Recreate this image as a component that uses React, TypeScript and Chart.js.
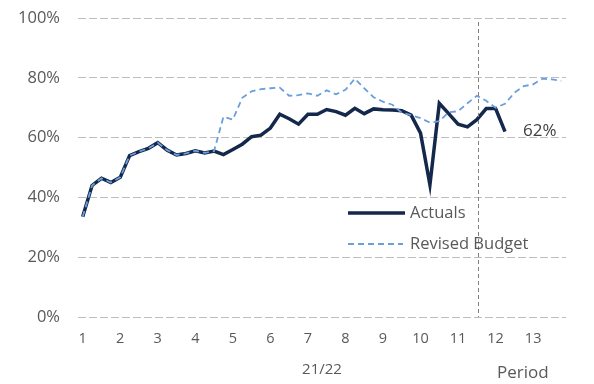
import React, { useEffect, useRef } from "react";
import { Chart, registerables } from "chart.js";

Chart.register(...registerables);

const periods = ["1", "2", "3", "4", "5", "6", "7", "8", "9", "10", "11", "12", "13"];
const weeksPerPeriod = 4;

const actuals = [
  33.5, 44, 46.4, 45, 46.7, 54, 55.3, 56.4, 58.3, 55.8, 54.2, 54.7, 55.6, 54.9,
  55.5, 54.3, 56, 57.8, 60.3, 60.8, 63.2, 67.8, 66.3, 64.5, 67.8, 67.8, 69.4,
  68.7, 67.5, 69.8, 68, 69.6, 69.3, 69.2, 69, 67.5, 61.5, 44.2, 71.5, 68, 64.5,
  63.6, 66, 69.7, 69.7, 62,
];

const revisedBudget = [
  33.5, 44, 46.4, 45, 46.7, 54, 55.3, 56.4, 58.3, 55.8, 54.2, 54.7, 55.6, 54.9,
  55.5, 67, 66, 73.3, 75.5, 76.2, 76.5, 76.7, 74, 74.2, 74.8, 74, 75.8, 74.5,
  76, 79.7, 76.5, 73.5, 72, 71, 68.3, 67.5, 66.5, 65, 65.5, 68.5, 68.8, 71.5,
  74, 72.3, 70, 71.3, 75, 77.2, 77.8, 79.7, 79.5, 79,
];

const yTicks = [0, 20, 40, 60, 80, 100];
const yearLabel = "21/22";
const axisName = "Period";
const currentWeek = 42.17;
const lastLabel = "62%";

const weekLabels: string[] = [];
periods.forEach((p) => {
  for (let w = 0; w < weeksPerPeriod; w++) weekLabels.push(w === 0 ? p : "");
});

const NAVY = "#14284b";
const BLUE = "#6a9fdc";
const GREY = "#595959";
const FONT = "'Open Sans', sans-serif";

const overlay = {
  id: "overlay",
  afterDatasetsDraw(chart: any) {
    const { ctx, chartArea, scales } = chart;
    const x = scales.x;
    ctx.save();
    // current-week marker
    const vx = Math.round(x.getPixelForValue(currentWeek)) + 0.5;
    ctx.strokeStyle = "#7f7f7f";
    ctx.lineWidth = 1;
    ctx.setLineDash([4, 3]);
    ctx.beginPath();
    ctx.moveTo(vx, chartArea.top + 4);
    ctx.lineTo(vx, chartArea.bottom);
    ctx.stroke();

    // last actual label
    const meta = chart.getDatasetMeta(0);
    const last = meta.data[meta.data.length - 1];
    ctx.setLineDash([]);
    ctx.fillStyle = "#404040";
    ctx.font = `17px ${FONT}`;
    ctx.textAlign = "left";
    ctx.textBaseline = "middle";
    ctx.fillText(lastLabel, last.x + 18, last.y);

    // legend
    const lx = 348;
    const ly1 = 213;
    const ly2 = 244;
    ctx.strokeStyle = NAVY;
    ctx.lineWidth = 3.5;
    ctx.beginPath();
    ctx.moveTo(lx, ly1);
    ctx.lineTo(lx + 57, ly1);
    ctx.stroke();
    ctx.strokeStyle = BLUE;
    ctx.lineWidth = 1.8;
    ctx.setLineDash([6, 4]);
    ctx.beginPath();
    ctx.moveTo(lx, ly2);
    ctx.lineTo(lx + 55, ly2);
    ctx.stroke();
    ctx.setLineDash([]);
    ctx.fillStyle = GREY;
    ctx.font = `16.5px ${FONT}`;
    ctx.fillText(chart.data.datasets[0].label, lx + 62, ly1);
    ctx.fillText(chart.data.datasets[1].label, lx + 62, ly2);

    // axis name
    ctx.font = `17px ${FONT}`;
    ctx.fillText(axisName, 497, 373);
    ctx.restore();
  },
};

export default function App() {
  const ref = useRef<HTMLCanvasElement | null>(null);
  useEffect(() => {
    if (!ref.current) return;
    const chart = new Chart(ref.current, {
      type: "line",
      data: {
        labels: weekLabels,
        datasets: [
          {
            label: "Actuals",
            data: actuals,
            borderColor: NAVY,
            borderWidth: 3.5,
            pointRadius: 0,
            tension: 0,
            order: 1,
          },
          {
            label: "Revised Budget",
            data: revisedBudget,
            borderColor: BLUE,
            borderWidth: 1.8,
            borderDash: [6, 4],
            pointRadius: 0,
            tension: 0,
            order: 0,
          },
        ],
      },
      options: {
        animation: false,
        responsive: false,
        maintainAspectRatio: false,
        layout: { padding: { left: 0, right: 28, top: 18, bottom: 0 } },
        plugins: { legend: { display: false }, tooltip: { enabled: false } },
        scales: {
          x: {
            type: "category",
            offset: true,
            grid: { display: false, drawTicks: false },
            border: { display: false },
            ticks: {
              autoSkip: false,
              maxRotation: 0,
              padding: 13,
              color: GREY,
              font: { family: FONT, size: 14.5 },
            },
            title: {
              display: true,
              text: yearLabel,
              color: GREY,
              font: { family: FONT, size: 15 },
              padding: { top: 0, bottom: 5 },
            },
            afterFit(scale: any) {
              scale.height = 67;
              scale.paddingLeft = 0;
              scale.paddingRight = 0;
            },
          },
          y: {
            min: 0,
            max: 100,
            afterBuildTicks(scale: any) {
              scale.ticks = yTicks.map((v) => ({ value: v }));
            },
            grid: {
              color: "#bdbdbd",
              lineWidth: 1,
              drawTicks: false,
            },
            border: { display: false, dash: [8, 3] },
            ticks: {
              padding: 18,
              color: GREY,
              font: { family: FONT, size: 16.5 },
              callback: (v: any) => `${v}%`,
            },
            afterFit(scale: any) {
              scale.width = 78;
              scale.paddingTop = 0;
              scale.paddingBottom = 0;
            },
          },
        },
      } as any,
      plugins: [overlay],
    });
    return () => chart.destroy();
  }, []);
  return (
    <div style={{ position: "absolute", left: 0, top: 0, width: 594, height: 384 }}>
      <canvas ref={ref} width={594} height={384} style={{ width: 594, height: 384 }} />
    </div>
  );
}
